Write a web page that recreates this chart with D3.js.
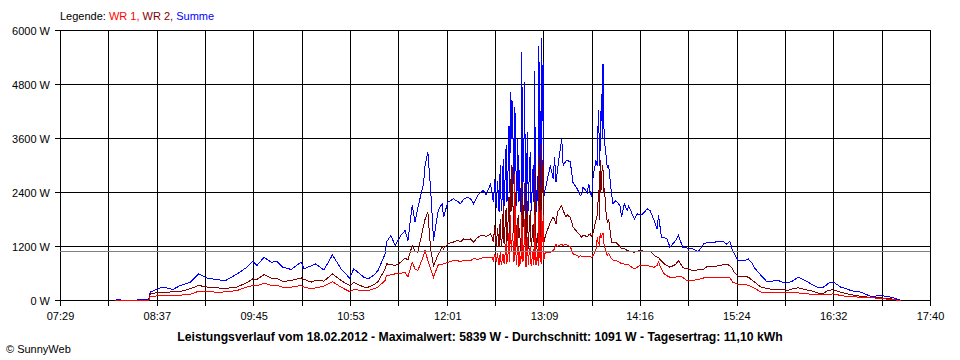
<!DOCTYPE html>
<html><head><meta charset="utf-8">
<script src="https://cdn.jsdelivr.net/npm/d3@7"></script>
<style>
body{margin:0;background:#fff;}
svg{display:block;}
text{font-family:"Liberation Sans",Arial,sans-serif;}
</style>
</head><body>
<svg id="chart" width="960" height="360"></svg>
<script>
// ---------- data ----------
const times = ["08:07","08:08","08:11","08:12","08:22","08:23","08:31","08:32","08:36","08:41","08:48","08:53","09:00","09:06","09:12","09:19","09:25","09:33","09:40","09:44","09:47","09:52","09:57","10:01","10:05","10:11","10:18","10:20","10:25","10:28","10:34","10:40","10:46","10:52","10:55","11:02","11:05","11:09","11:12","11:17","11:18","11:21","11:24","11:28","11:31","11:33","11:36","11:38","11:40","11:44","11:45","11:47","11:49","11:51","11:54","11:55","11:57","11:58","12:01","12:05","12:08","12:10","12:12","12:15","12:17","12:19","12:22","12:24","12:26","12:28","12:31","12:32",
"12:33","12:34","12:35","12:36","12:36:30","12:37","12:37:30","12:38","12:38:30","12:39","12:39:30","12:40","12:40:30","12:41","12:41:30","12:42","12:42:30","12:43","12:43:30","12:44","12:44:30","12:45","12:45:30","12:46","12:46:30","12:47","12:47:30","12:48","12:48:30","12:49","12:49:30","12:50","12:50:30","12:51","12:51:30","12:52","12:52:30","12:53","12:53:30","12:54","12:54:30","12:55","12:55:30","12:56","12:56:30","12:57","12:57:30","12:58","12:58:30","12:59","12:59:30","13:00","13:00:30","13:01","13:01:30","13:02","13:02:30","13:03","13:03:30","13:04","13:04:30","13:05","13:05:30","13:06","13:06:30","13:07","13:07:30","13:08","13:08:30","13:09","13:10",
"13:13","13:15","13:16","13:17","13:18","13:21","13:22","13:24","13:25","13:27","13:29","13:32","13:33","13:34","13:35","13:36","13:39","13:40","13:41","13:42","13:43","13:45","13:46","13:46:30","13:47","13:47:30","13:48","13:48:30","13:49","13:49:30","13:50","13:50:30","13:51","13:52","13:53","13:54","13:56","13:57","13:59","14:02","14:03","14:05","14:07","14:08","14:12","14:14","14:16","14:18","14:21","14:23","14:26","14:28","14:29","14:31","14:33","14:35","14:37","14:41","14:43","14:46","14:48","14:50","14:53","14:57","15:01","15:03","15:08","15:14","15:17","15:19","15:21","15:22","15:25","15:29","15:32","15:35","15:36","15:41","15:45","15:48","15:53","15:57","15:58","16:00","16:03","16:07","16:13","16:18","16:20","16:23","16:24","16:27","16:28","16:31","16:32","16:37","16:41","16:44","16:46","16:51","16:56","16:58","17:00","17:05","17:10","17:12","17:14","17:18","17:19"];

const summe = [0,15,15,0,0,15,15,185,240,300,245,333,400,590,500,460,444,590,740,870,780,960,850,870,740,690,852,703,770,814,680,1015,703,500,703,520,481,560,666,1037,1300,1444,1222,1444,1555,1333,2111,1740,2073,2592,3000,3296,2444,1333,1962,2050,2148,1851,2185,2259,2200,2148,2250,2296,2259,2150,2333,2407,2444,2350,2592,2400,
2185,2703,2050,2650,2300,1962,2700,3000,2000,2150,2800,3148,2100,2450,3100,3450,2200,2300,3300,3888,2400,4629,3600,4444,4400,3050,2600,4300,3960,2629,2100,3592,3000,2200,2900,1962,2400,5518,2300,2800,3500,4851,2300,1814,3100,3740,2000,2600,3100,3300,2000,2259,2700,3000,2200,5111,2600,1962,2300,2777,2000,5666,2600,4200,2200,5839,4000,5300,2300,2407,2555,
3000,2703,3185,2629,2900,3592,3000,3100,3111,3080,2610,2481,2400,2333,2350,2518,2400,2592,2400,2296,2740,3111,3000,3900,4222,3000,3400,4100,4592,3600,5259,4000,3555,3259,2962,3000,2370,2148,2222,2100,1851,2148,2000,2100,1814,1925,1900,1925,2037,2000,1777,1592,1900,1407,1400,1370,1185,1333,1444,1185,1185,1148,1148,1089,1274,1280,1296,1318,1250,1318,1111,1050,888,880,925,820,740,555,422,430,444,400,385,400,429,518,429,333,300,290,281,340,385,400,407,296,260,222,210,185,120,89,95,111,89,75,59,15,0];

const wr2 = [0,0,0,0,0,0,0,150,170,185,190,200,260,333,300,280,270,300,400,480,470,577,500,490,422,444,503,470,407,450,430,592,444,333,400,300,296,350,420,700,814,800,777,850,948,900,1222,1100,1073,1666,1800,1962,1111,777,1000,1073,1200,1150,1259,1300,1333,1300,1370,1350,1370,1300,1400,1444,1444,1420,1481,1420,
1296,1666,1200,1600,1350,1180,1650,1800,1200,1300,1700,2111,1250,1480,1900,2050,1300,1400,2000,2300,1500,2703,2000,3000,2800,1600,1500,2000,2400,1500,1200,1700,1900,1400,1600,1100,1300,2629,1300,1800,2100,2600,1300,1000,1800,2200,1150,1500,1800,2000,1200,1300,1600,1700,1300,2900,1500,1150,1350,1500,1200,3200,1500,2500,1300,3481,2400,3000,1300,1370,1480,
1740,1851,1800,1700,1962,2111,2000,1851,1900,1850,1629,1518,1480,1444,1407,1450,1420,1460,1480,1420,1500,1777,1900,2200,2444,1800,3111,2400,2700,3000,2900,2400,2500,2000,1740,1800,1296,1300,1296,1200,1148,1150,1111,1100,1073,1090,1111,1100,1100,1100,1000,962,950,880,814,780,740,800,888,740,703,703,666,680,700,755,755,790,800,780,700,629,533,533,520,444,420,296,270,251,251,251,240,222,260,281,237,200,175,148,150,200,220,237,230,185,150,130,118,95,74,70,65,59,45,37,30,0,0];

const wr1 = [0,0,0,0,0,0,0,90,100,110,110,120,133,207,196,185,190,222,300,333,330,385,333,340,296,296,333,300,259,280,320,420,296,200,240,222,222,259,296,450,555,570,592,600,629,518,851,700,666,1000,1111,888,700,518,777,800,800,814,850,888,880,870,888,900,888,925,920,925,962,950,962,960,
890,1037,850,1050,850,780,950,1100,780,850,1000,1037,820,950,1100,1300,850,880,1150,1500,850,1900,1100,1300,1500,1200,850,2800,1100,1000,800,1700,900,750,1100,820,950,1900,850,900,1200,1800,800,750,1100,1400,780,1000,1150,1200,760,900,1000,1150,800,1900,950,780,880,1150,760,2100,950,1400,820,2000,1300,1900,900,1037,1075,
1073,1110,1150,1259,1200,1250,1220,1259,1230,1200,1037,1000,962,1000,980,990,970,980,980,962,1000,1111,1407,1300,1300,1200,1500,1400,1400,1500,1500,1300,1200,1100,1000,1050,925,900,888,840,814,810,800,790,703,740,777,780,790,760,740,780,851,700,592,550,518,520,530,520,459,444,444,470,503,510,518,518,515,510,407,400,355,355,340,296,280,185,175,170,170,170,175,180,185,170,148,135,126,128,130,130,140,145,148,110,89,85,80,74,65,62,59,45,30,25,20,0,0];

const yTicks = [0, 1200, 2400, 3600, 4800, 6000];
const xTickLabels = ["07:29","08:37","09:45","10:53","12:01","13:09","14:16","15:24","16:32","17:40"];
const averageW = 1091;
const seriesNames = ["WR 1", "WR 2", "Summe"];
const titleText = "Leistungsverlauf vom 18.02.2012 - Maximalwert: 5839 W - Durchschnitt: 1091 W - Tagesertrag: 11,10 kWh";
const footerText = "\u00A9 SunnyWeb";

// ---------- chart ----------
const svg = d3.select("#chart");
const pHM = d3.timeParse("%H:%M"), pHMS = d3.timeParse("%H:%M:%S");
const parse = s => (s.length > 5 ? pHMS(s) : pHM(s));
const t0 = parse(xTickLabels[0]), t1 = parse(xTickLabels[xTickLabels.length - 1]);
const plotLeft = 60, plotRight = 930, plotTop = 30, plotBottom = 300;
const x = d3.scaleTime().domain([t0, t1]).range([plotLeft + 0.5, plotRight + 0.5]);
const y = d3.scaleLinear().domain([0, 6000]).range([plotBottom + 0.5, plotTop + 0.5]);
const colors = {"WR 1": "#ff0000", "WR 2": "#800000", "Summe": "#0000ff"};

const nTicks = (xTickLabels.length - 1) * 2 + 1;
const tickDates = d3.range(nTicks).map(i => new Date(+t0 + i * (t1 - t0) / (nTicks - 1)));

// grid
const grid = svg.append("g").attr("shape-rendering", "crispEdges").attr("stroke", "#000").attr("stroke-width", 1);
grid.selectAll("line.v").data(tickDates).join("line").attr("class", "v")
  .attr("x1", d => Math.round(x(d) - 0.5) + 0.5).attr("x2", d => Math.round(x(d) - 0.5) + 0.5)
  .attr("y1", y(6000)).attr("y2", y(0) + 5);
grid.selectAll("line.h").data(yTicks).join("line").attr("class", "h")
  .attr("x1", plotLeft - 5).attr("x2", plotRight + 1)
  .attr("y1", d => y(d)).attr("y2", d => y(d));

// y labels
svg.append("g").selectAll("text").data(yTicks).join("text")
  .attr("x", 50).attr("y", d => y(d) + 4)
  .attr("text-anchor", "end").attr("font-size", 11).attr("fill", "#000")
  .text(d => d + " W");

// x labels
svg.append("g").selectAll("text").data(xTickLabels).join("text")
  .attr("x", d => x(parse(d))).attr("y", 320)
  .attr("text-anchor", "middle").attr("font-size", 11).attr("fill", "#000")
  .text(d => d);

// series
const rows = times.map((t, i) => ({t: parse(t), "WR 1": wr1[i], "WR 2": wr2[i], "Summe": summe[i]}));
const drawOrder = ["Summe", "WR 2", "WR 1"];
drawOrder.forEach(name => {
  const line = d3.line().x(d => x(d.t)).y(d => y(d[name]));
  svg.append("path").datum(rows)
    .attr("d", line)
    .attr("fill", "none")
    .attr("stroke", colors[name])
    .attr("stroke-width", 1)
    .attr("shape-rendering", "crispEdges");
});

// average line
svg.append("line")
  .attr("x1", plotLeft).attr("x2", plotRight)
  .attr("y1", Math.round(y(averageW)) + 0.5).attr("y2", Math.round(y(averageW)) + 0.5)
  .attr("stroke", "#808080").attr("stroke-width", 1).attr("shape-rendering", "crispEdges");

// legend
const leg = svg.append("text").attr("x", 60).attr("y", 20).attr("font-size", 11);
leg.append("tspan").attr("fill", "#000").text("Legende: ");
seriesNames.forEach((n, i) => {
  leg.append("tspan").attr("fill", colors[n]).text(n + (i < seriesNames.length - 1 ? ", " : ""));
});

// title
svg.append("text").attr("x", 480).attr("y", 341).attr("text-anchor", "middle")
  .attr("font-size", 12.2).attr("font-weight", "bold").attr("fill", "#000").text(titleText);
svg.append("text").attr("x", 6).attr("y", 353).attr("font-size", 11).attr("fill", "#000").text(footerText);
</script>
</body></html>
